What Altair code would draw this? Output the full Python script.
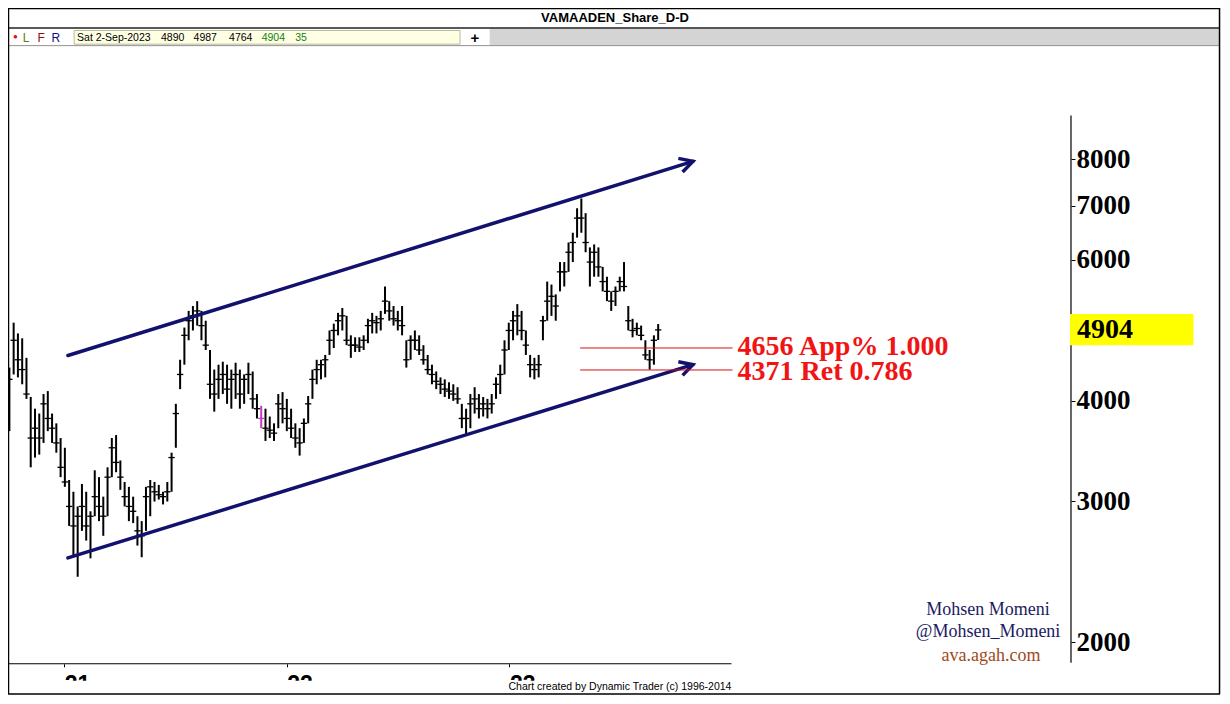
import math
import pandas as pd
import altair as alt

# ---------------- data ----------------
chart_title = "VAMAADEN_Share_D-D"
first_week = "2020-10-03"          # weekly bars, one every 7 days up to Sat 2-Sep-2023
high = [4401, 5007, 4855, 4787, 4526, 4045, 3911, 3857, 4079, 4114,
        3857, 3750, 3595, 3496, 3187, 3081, 2954, 3151, 3081, 2913,
        3277, 3213, 3038, 3305, 3595, 3626, 3371, 3169, 3125, 3038,
        2872, 2832, 3125, 3187, 3169, 3142, 3081, 3169, 3447, 3966,
        4501, 4937, 5179, 5252, 5326, 5179, 5035, 4629, 4376, 4438,
        4476, 4438, 4376, 4463, 4376, 4315, 4463, 4352, 4079, 3944,
        3911, 3824, 3750, 4079, 4102, 4023, 3911, 3750, 3698, 3803,
        4056, 4376, 4501, 4501, 4564, 4896, 4993, 5150, 5223, 5106,
        4828, 4801, 4801, 4828, 5063, 5150, 5106, 5179, 5555, 5326,
        5252, 5179, 5252, 4760, 4828, 4896, 4828, 4694, 4564, 4438,
        4352, 4279, 4255, 4219, 4195, 4160, 3966, 3911, 4079, 4160,
        4079, 4045, 4023, 4079, 4279, 4438, 4760, 5007, 5179, 5281,
        5179, 4896, 4564, 4526, 4564, 5106, 5634, 5586, 5431, 5959,
        5959, 6303, 6482, 6954, 7152, 6857, 6215, 6268, 6215, 5876,
        5713, 5478, 5555, 5713, 5959, 5252, 5063, 5007, 4965, 4760,
        4629, 4828, 4987]
low = [3667, 4315, 4279, 4195, 4023, 3305, 3399, 3428, 3545, 3667,
       3545, 3447, 3213, 3125, 2793, 2567, 2414, 2754, 2678, 2545,
       2872, 2832, 2715, 2872, 3213, 3259, 3098, 2954, 2832, 2816,
       2640, 2553, 2754, 2872, 2996, 3013, 2971, 2996, 3081, 3496,
       4137, 4438, 4760, 4896, 4965, 4760, 4629, 4023, 3878, 4023,
       4079, 3966, 3911, 4023, 3911, 3966, 4079, 3911, 3803, 3698,
       3565, 3595, 3565, 3698, 3750, 3667, 3595, 3496, 3418, 3545,
       3750, 4023, 4195, 4255, 4279, 4564, 4655, 4828, 4896, 4694,
       4526, 4603, 4603, 4629, 4720, 4855, 4855, 4896, 5135, 5035,
       4965, 4896, 4828, 4401, 4501, 4629, 4564, 4438, 4315, 4195,
       4137, 4079, 4045, 4023, 4000, 3966, 3698, 3626, 3698, 3857,
       3803, 3824, 3803, 3857, 4023, 4079, 4315, 4629, 4760, 4828,
       4760, 4564, 4279, 4255, 4279, 4760, 5035, 5106, 5035, 5478,
       5555, 5794, 5959, 6392, 6482, 6129, 5555, 5713, 5713, 5478,
       5326, 5179, 5252, 5478, 5478, 4896, 4801, 4828, 4760, 4501,
       4376, 4438, 4764]
close = [4255, 4760, 4501, 4376, 4079, 3595, 3698, 3595, 3966, 3803,
         3698, 3545, 3305, 3169, 2954, 2793, 2872, 2954, 2793, 2872,
         3038, 2954, 2872, 3213, 3496, 3352, 3213, 3038, 2954, 2913,
         2754, 2715, 3038, 3125, 3081, 3055, 3038, 3081, 3399, 3857,
         4315, 4828, 5035, 5106, 5179, 4965, 4694, 4195, 4079, 4255,
         4315, 4137, 4255, 4315, 4079, 4255, 4315, 4023, 3911, 3803,
         3698, 3677, 3646, 3966, 3911, 3803, 3698, 3595, 3545, 3750,
         3966, 4255, 4376, 4438, 4501, 4760, 4896, 5035, 5106, 4760,
         4694, 4694, 4668, 4760, 4965, 5035, 5007, 5063, 5326, 5179,
         5063, 5035, 4965, 4501, 4760, 4760, 4629, 4501, 4376, 4315,
         4231, 4195, 4137, 4114, 4079, 4023, 3803, 3803, 3966, 4023,
         3911, 3966, 3911, 3966, 4195, 4315, 4629, 4896, 5035, 5106,
         4896, 4694, 4438, 4376, 4438, 5035, 5326, 5401, 5252, 5794,
         5794, 6129, 6303, 6761, 6761, 6303, 5959, 6129, 5876, 5634,
         5478, 5326, 5478, 5634, 5555, 5035, 4896, 4924, 4828, 4564,
         4501, 4760, 4904]
highlight_week = "2021-11-20"

last_date_label = "Sat 2-Sep-2023"
last_open, last_high, last_low, last_close, last_change = 4890, 4987, 4764, 4904, 35

price_ticks = [2000, 3000, 4000, 6000, 7000, 8000]
year_ticks = [2021, 2022, 2023]

channel_dates = ["2021-01-07", "2023-10-29"]
upper_channel = [4556, 7957]
lower_channel = [2548, 4438]

fib_levels = [4656, 4371]
fib_labels = ["4656 App% 1.000", "4371 Ret 0.786"]
fib_start = "2023-04-27"
fib_end = "2024-01-02"

watermark = ["Mohsen Momeni", "@Mohsen_Momeni", "ava.agah.com"]
credit = "Chart created by Dynamic Trader  (c) 1996-2014"

# ---------------- layout helpers (reference pixel -> svg pixel) ----------------
W, H = 1214, 688
sx, sy = W / 1230.0, H / 704.0


def X(v):
    return v * sx


def Y(v):
    return v * sy


# time scale calibration: Jan-1 ticks of 2021 / 2023 sit at ref x 57 / 508
ppd = (508 - 57) / 730.0
day0 = pd.Timestamp("2021-01-01")
d0 = day0 - pd.Timedelta(days=57 / ppd)
d1 = d0 + pd.Timedelta(days=1230 / ppd)
fmt = "%Y-%m-%dT%H:%M:%S"
xs = alt.Scale(domain=[d0.strftime(fmt), d1.strftime(fmt)], nice=False)

# log price scale calibration: 8000 at ref y 155, 2000 at ref y 649
kpx = (649 - 155) / math.log(4)
ytop = 2000 * math.exp(649 / kpx)
ybot = 2000 * math.exp((649 - 704) / kpx)
ys = alt.Scale(type="log", domain=[ybot, ytop], nice=False, zero=False)

NAVY = "#12126e"
RED = "#f01414"

assert len(high) == len(low) == len(close)
dates = pd.date_range(first_week, periods=len(close), freq="7D")
df = pd.DataFrame({
    "date": dates.strftime(fmt),
    "high": high,
    "low": low,
    "close": close,
    "hl": ["h" if d.strftime("%Y-%m-%d") == highlight_week else "n" for d in dates],
})

xaxis = alt.Axis(
    orient="bottom", offset=Y(671) - H, title=None, grid=False, domain=False,
    values=[alt.DateTime(year=y, month=1, date=1) for y in year_ticks],
    format="%y", tickSize=3, tickColor="black", tickWidth=1,
    labelFont="Liberation Sans", labelFontSize=23, labelFontWeight="bold",
    labelColor="black", labelAlign="left", labelPadding=7,
    labelFlush=False, labelOverlap=False, zindex=0,
)
yaxis = alt.Axis(
    orient="right", offset=X(1077) - W, title=None, grid=False, domain=False,
    values=price_ticks, format="d", tickSize=4, tickColor="black", tickWidth=1,
    labelFont="Liberation Serif", labelFontSize=27, labelFontWeight="bold",
    labelColor="black", labelPadding=1, labelBaseline="middle",
    labelFlush=False, labelOverlap=False, zindex=0,
)


def xenc(field):
    return alt.X(field, scale=xs, axis=xaxis)


def yenc(field):
    return alt.Y(field, scale=ys, axis=yaxis)


color = alt.Color("hl:N", scale=alt.Scale(domain=["n", "h"], range=["black", "#c23cc2"]), legend=None)

bars = alt.Chart(df).mark_rule(strokeWidth=2.0).encode(
    x=xenc("date:T"), y=yenc("low:Q"), y2="high:Q", color=color,
)
ticks = alt.Chart(df).mark_point(
    shape="M -1 0 L 1 0", size=40, strokeWidth=1.3, filled=False, opacity=1
).encode(x=xenc("date:T"), y=yenc("close:Q"), color=color)

# channel lines
ch = pd.DataFrame({
    "date": [pd.Timestamp(d).strftime(fmt) for d in channel_dates] * 2,
    "price": upper_channel + lower_channel,
    "line": ["upper", "upper", "lower", "lower"],
})
channel = alt.Chart(ch).mark_line(strokeWidth=3.5, color=NAVY, strokeCap="round").encode(
    x=xenc("date:T"), y=yenc("price:Q"), detail="line:N",
)
heads = alt.Chart(ch.iloc[[1, 3]]).mark_point(
    shape="M -1 -0.55 L 0 0 L -1 0.55", size=680, angle=342.7, strokeWidth=3.5,
    filled=False, opacity=1, color=NAVY, strokeJoin="miter",
).encode(x=xenc("date:T"), y=yenc("price:Q"))

# fib levels
fib = pd.DataFrame({
    "start": [pd.Timestamp(fib_start).strftime(fmt)] * 2,
    "end": [pd.Timestamp(fib_end).strftime(fmt)] * 2,
    "level": fib_levels,
    "label": fib_labels,
    "dy": [-1, 2],
})
fib_lines = alt.Chart(fib).mark_rule(color="#d81010", strokeWidth=1).encode(
    x=xenc("start:T"), x2="end:T", y=yenc("level:Q"),
)
fib_text_a = alt.Chart(fib.iloc[[0]]).mark_text(
    align="left", baseline="middle", dx=5, dy=-1, font="Liberation Serif",
    fontSize=28, fontWeight="bold", color=RED,
).encode(x=xenc("end:T"), y=yenc("level:Q"), text="label:N")
fib_text_b = alt.Chart(fib.iloc[[1]]).mark_text(
    align="left", baseline="middle", dx=5, dy=2, font="Liberation Serif",
    fontSize=28, fontWeight="bold", color=RED,
).encode(x=xenc("end:T"), y=yenc("level:Q"), text="label:N")

# ---------------- decorations ----------------
one = alt.Chart(pd.DataFrame({"k": [0]}))


def rect(x0, y0, x1, y1, fill, stroke="transparent", sw=0):
    return one.mark_rect(fill=fill, stroke=stroke, strokeWidth=sw).encode(
        x=alt.value(X(x0)), x2=alt.value(X(x1)), y=alt.value(Y(y0)), y2=alt.value(Y(y1)))


def line(x0, y0, x1, y1, col="black", sw=1):
    return one.mark_rule(color=col, strokeWidth=sw).encode(
        x=alt.value(X(x0)), x2=alt.value(X(x1)), y=alt.value(Y(y0)), y2=alt.value(Y(y1)))


def text(x, y, s, size=11, col="black", font="Liberation Sans", weight="normal", align="left"):
    return one.mark_text(text=s, fontSize=size, color=col, font=font, fontWeight=weight,
                         align=align, baseline="middle").encode(x=alt.value(X(x)), y=alt.value(Y(y)))


deco_back = [
    rect(488, 21, 1227, 38, "#d4d4d4"),
    rect(67, 23, 458, 37, "#ffffe4", "#b8b8a0", 1),
    line(0, 20.5, 1228, 20.5, "#222222", 1.5),
    line(0, 38.5, 1228, 38.5, "#909090", 1),
    text(615, 10, chart_title, 13, "black", weight="bold", align="center"),
    text(5, 30, "\u25cf", 8, "#e01010"),
    text(15, 30.5, "L", 12, "#6b7a10"),
    text(30, 30.5, "F", 12, "#8b1010"),
    text(44, 30.5, "R", 12, "#101080"),
    text(70, 30.5, last_date_label, 10.5),
    text(155, 30.5, str(last_open), 10.5),
    text(188, 30.5, str(last_high), 10.5),
    text(224, 30.5, str(last_low), 10.5),
    text(257, 30.5, str(last_close), 10.5, "#108010"),
    text(291, 30.5, str(last_change), 10.5, "#108010"),
    text(473, 30.5, "+", 15, "black", weight="bold", align="center"),
]

deco_front = [
    line(0, 671, 733, 671, "black", 1.2),
    line(1077, 110, 1077, 670, "black", 1.2),
    rect(1076, 313, 1201, 345, "#ffff00"),
    text(1083, 329.5, str(last_close), 28, "black", "Liberation Serif", "bold"),
    text(993, 616, watermark[0], 18, "#1b1b5e", "Liberation Serif", align="center"),
    text(993, 639, watermark[1], 18, "#1b1b5e", "Liberation Serif", align="center"),
    text(996, 663, watermark[2], 18, "#a04a1c", "Liberation Serif", align="center"),
    rect(1, 688.5, 1227, 701.5, "white"),
    text(733, 695, credit, 10.5, "black", align="right"),
    # frame
    line(0.5, 0, 0.5, 702, "black", 1.5),
    line(1227.5, 0, 1227.5, 702, "black", 1.5),
    line(0, 0.5, 1228, 0.5, "black", 1.5),
    line(0, 702, 1228, 702, "black", 1.5),
]

chart = alt.layer(
    *deco_back, bars, ticks, channel, heads, fib_lines, fib_text_a, fib_text_b, *deco_front
).properties(
    width=W, height=H, autosize=alt.AutoSizeParams(type="none"), padding=0,
    background="white",
).configure_view(strokeWidth=0)

chart.save("out.html", embed_options={"renderer": "svg", "actions": False})
